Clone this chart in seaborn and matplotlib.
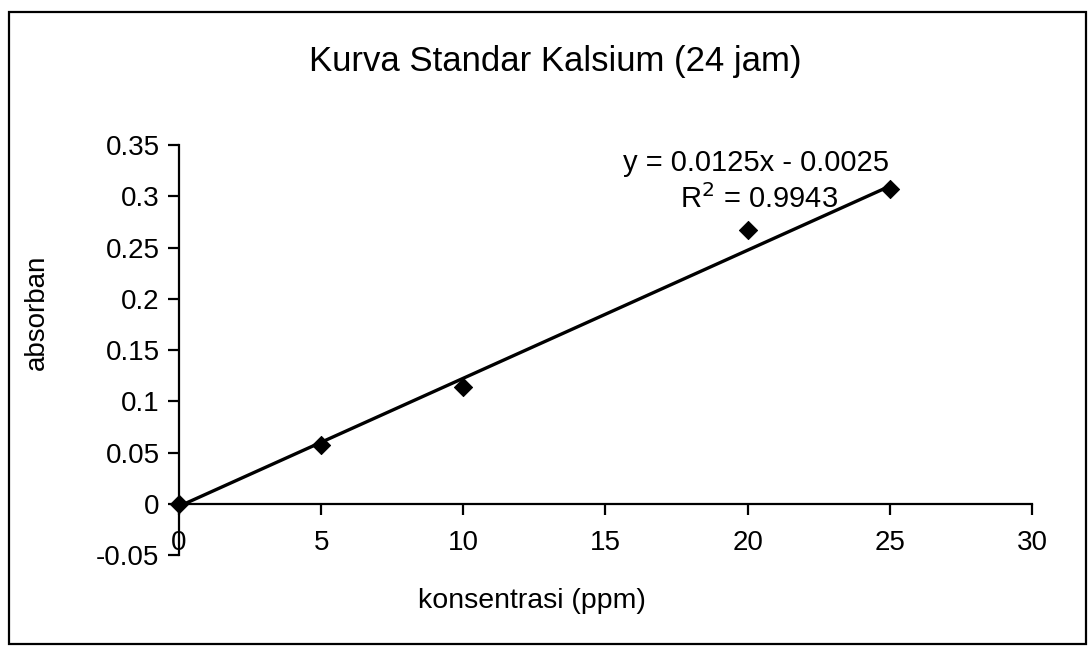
import numpy as np
import pandas as pd
import matplotlib
matplotlib.use('Agg')
import matplotlib.pyplot as plt
import seaborn as sns
from matplotlib.patches import Rectangle

# data
konsentrasi = [0, 5, 10, 20, 25]
absorban = [0.0, 0.057, 0.114, 0.267, 0.307]
slope, intercept = 0.0125, -0.0025
r2 = 0.9943
x_ticks = [0, 5, 10, 15, 20, 25, 30]
y_ticks = [-0.05, 0, 0.05, 0.1, 0.15, 0.2, 0.25, 0.3, 0.35]
y_labels = ['-0.05', '0', '0.05', '0.1', '0.15', '0.2', '0.25', '0.3', '0.35']

df = pd.DataFrame({'konsentrasi': konsentrasi, 'absorban': absorban})
fit_x = np.array([konsentrasi[0], konsentrasi[-1]])
trend = pd.DataFrame({'x': fit_x, 'y': slope * fit_x + intercept})

sns.set_style('white')
plt.rcParams['font.family'] = ['Liberation Sans', 'DejaVu Sans']
plt.rcParams['text.color'] = 'black'
plt.rcParams['xtick.color'] = 'black'
plt.rcParams['ytick.color'] = 'black'

fig = plt.figure(figsize=(10.88, 6.51), dpi=100)
ax = fig.add_axes([0.1645, 0.1475, 0.784, 0.6295])

sns.lineplot(data=trend, x='x', y='y', color='black', lw=2.4, ax=ax)
sns.scatterplot(data=df, x='konsentrasi', y='absorban', marker='D', s=85,
                color='black', edgecolor='black', zorder=5, ax=ax, clip_on=False)

ax.set_xlim(0, 30)
ax.set_ylim(-0.05, 0.35)
ax.set_xticks(x_ticks)
ax.set_yticks(y_ticks)
ax.set_xticklabels([str(t) for t in x_ticks])
ax.set_yticklabels(y_labels)

for s in ['top', 'right']:
    ax.spines[s].set_visible(False)
ax.spines['bottom'].set_position(('data', 0))
for s in ['left', 'bottom']:
    ax.spines[s].set_color('black')
    ax.spines[s].set_linewidth(1.6)
ax.tick_params(axis='y', direction='out', length=8, width=1.6, labelsize=20, pad=6,
               left=True)
ax.tick_params(axis='x', direction='out', length=8, width=1.6, labelsize=20, pad=11,
               bottom=True)

ax.set_xlabel('')
ax.set_ylabel('')
fig.text(0.489, 0.077, 'konsentrasi (ppm)', ha='center', va='center', fontsize=20.5)
fig.text(0.034, 0.52, 'absorban', ha='center', va='center', rotation=90, fontsize=20)
fig.text(0.51, 0.905, 'Kurva Standar Kalsium (24 jam)', ha='center', va='center',
         fontsize=25)

ax.text(20.3, 0.333, f'y = {slope}x - {abs(intercept)}', ha='center', va='center', fontsize=21)
ax.text(20.4, 0.297, f'R$^2$ = {r2}', ha='center', va='center', fontsize=21)

fig.patches.append(Rectangle((0.008, 0.01), 0.99, 0.972, transform=fig.transFigure,
                             fill=False, edgecolor='black', lw=1.6))

fig.savefig('out.png', dpi=100)
